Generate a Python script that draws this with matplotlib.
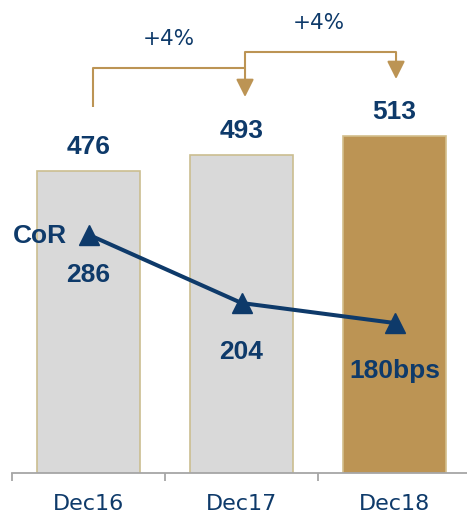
import matplotlib
matplotlib.use("Agg")
import matplotlib.pyplot as plt

# ---- data ----
categories = ["Dec16", "Dec17", "Dec18"]
bar_values = [476, 493, 513]
cor_values = [286, 204, 180]
bar_labels = ["476", "493", "513"]
cor_labels = ["286", "204", "180bps"]
growth_labels = ["+4%", "+4%"]

# ---- style ----
NAVY = "#0E3A6A"
GOLD = "#BC9454"
GRAY = "#D9D9D9"
EDGE_GRAY = "#CBBE90"
EDGE_GOLD = "#D3BF8C"
AXIS = "#A6A6A6"
BOLD = "Liberation Sans"
REG = "DejaVu Sans"

fig = plt.figure(figsize=(4.67, 5.17), dpi=100)
ax = fig.add_axes([12 / 467, 44 / 517, 459 / 467, 473 / 517])
ax.set_xlim(-0.5, 2.5)
ax.set_ylim(156.5, 656.5)

x = list(range(len(categories)))
fills = [GRAY, GRAY, GOLD]
edges = [EDGE_GRAY, EDGE_GRAY, EDGE_GOLD]
bars = ax.bar(x, bar_values, width=0.67, color=fills, edgecolor=edges,
              linewidth=1.2, zorder=2)

for xi, v, lab in zip(x, bar_values, bar_labels):
    ax.annotate(lab, (xi, v), xytext=(0, 12.3), textcoords="offset points",
                ha="center", va="baseline", fontsize=19, fontweight="bold",
                family=BOLD, color=NAVY, zorder=5)

# axis styling
for s in ["left", "top", "right"]:
    ax.spines[s].set_visible(False)
ax.spines["bottom"].set_color(AXIS)
ax.spines["bottom"].set_linewidth(1.3)
ax.set_yticks([])
ax.set_xticks([-0.5, 0.5, 1.5, 2.5])
ax.set_xticklabels([])
ax.tick_params(axis="x", which="major", direction="out", length=5.8,
               width=1.3, color=AXIS)
ax.set_xticks(x, minor=True)
ax.set_xticklabels(categories, minor=True)
ax.tick_params(axis="x", which="minor", length=0, pad=15.0,
               labelsize=16, labelcolor=NAVY)
for t in ax.get_xticklabels(minor=True):
    t.set_family(REG)

# growth brackets (in bar data coordinates)
def px_to_y(py):
    return 156.5 + (473 - py) * 1.057

b1x = [0.029, 0.029, 1.023]
b1y = [px_to_y(107), px_to_y(68), px_to_y(68)]
ax.plot(b1x, b1y, color=GOLD, lw=1.5, clip_on=False, zorder=3,
        solid_capstyle="butt")
ax.annotate("", xy=(1.023, px_to_y(97)), xytext=(1.023, px_to_y(68)),
            arrowprops=dict(arrowstyle="-|>,head_length=1.0,head_width=0.5",
                            color=GOLD, lw=1.5, mutation_scale=10.8,
                            shrinkA=0, shrinkB=0), annotation_clip=False)
b2x = [1.023, 1.023, 2.01]
b2y = [px_to_y(68), px_to_y(52), px_to_y(52)]
ax.plot(b2x, b2y, color=GOLD, lw=1.5, clip_on=False, zorder=3,
        solid_capstyle="butt")
ax.annotate("", xy=(2.01, px_to_y(79)), xytext=(2.01, px_to_y(52)),
            arrowprops=dict(arrowstyle="-|>,head_length=1.0,head_width=0.5",
                            color=GOLD, lw=1.5, mutation_scale=10.8,
                            shrinkA=0, shrinkB=0), annotation_clip=False)

ax.text(0.526, px_to_y(45), growth_labels[0], ha="center", va="baseline",
        fontsize=15.5, family=REG, color=NAVY)
ax.text(1.507, px_to_y(28.5), growth_labels[1], ha="center", va="baseline",
        fontsize=15.5, family=REG, color=NAVY)

# CoR line
ax2 = ax.twinx()
ax2.set_ylim(0, 567.6)
for s in ax2.spines.values():
    s.set_visible(False)
ax2.set_yticks([])
ax2.plot(x, cor_values, color=NAVY, lw=2.9, marker="^", markersize=15,
         zorder=4)
offsets = [33.8, 40.3, 39.6]
for xi, v, lab, off in zip(x, cor_values, cor_labels, offsets):
    ax2.annotate(lab, (xi, v), xytext=(0, -off), textcoords="offset points",
                 ha="center", va="baseline", fontsize=19, fontweight="bold",
                 family=BOLD, color=NAVY)
ax2.annotate("CoR", (0, cor_values[0]), xytext=(-15.8, -5.8),
             textcoords="offset points", ha="right", va="baseline",
             fontsize=19, fontweight="bold", family=BOLD, color=NAVY)

fig.savefig("out.png", dpi=100)
